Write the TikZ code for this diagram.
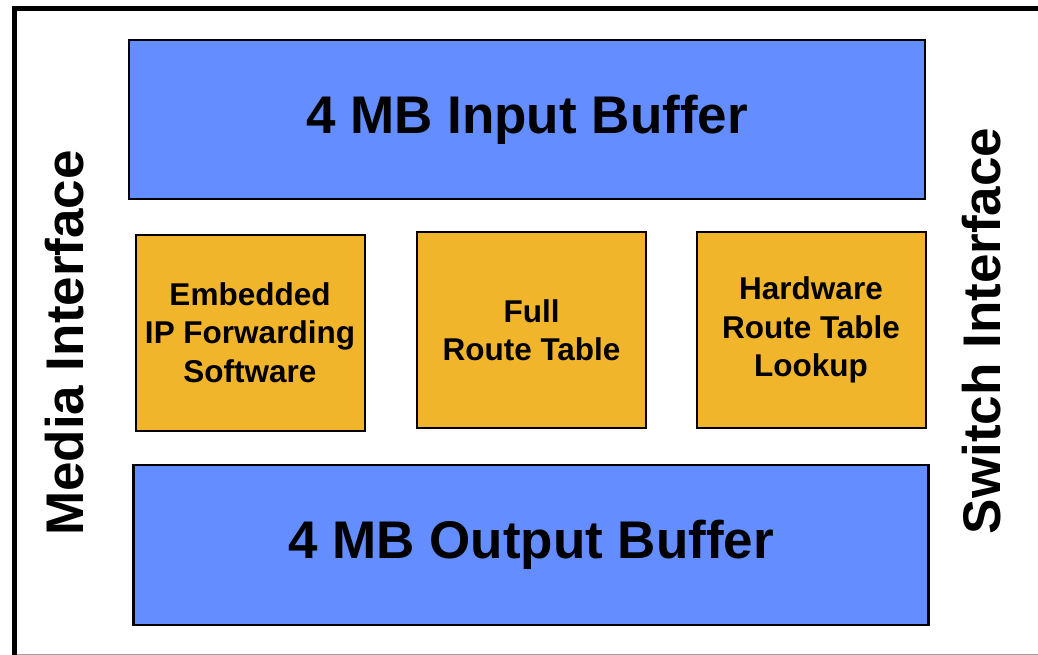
\documentclass[tikz,border=0pt]{standalone}
\usepackage{fontspec}
\setmainfont{Liberation Sans}
\usetikzlibrary{positioning}
\definecolor{bufblue}{HTML}{648EFF}
\definecolor{unitgold}{HTML}{F1B52B}
\definecolor{edge}{HTML}{000000}
\definecolor{rule}{HTML}{A0A0A0}
\tikzset{
  buffer/.style={draw=edge, line width=2.6pt, fill=bufblue, inner sep=0pt,
                 font=\fontsize{53}{60}\selectfont\bfseries},
  unit/.style={draw=edge, line width=2pt, fill=unitgold, inner sep=0pt, align=center,
               minimum width=229pt, minimum height=196pt,
               font=\fontsize{31.5}{38.5}\selectfont\bfseries},
  side/.style={rotate=90, inner sep=0pt, font=\fontsize{53}{60}\selectfont\bfseries},
}
\begin{document}
\begin{tikzpicture}[x=1pt, y=-1pt]
  \useasboundingbox (0,0) rectangle (1038,655);
  % outer card, cut by the page on the right and bottom
  \draw[line width=5pt, edge] (14.5,655) -- (14.5,9) -- (1038,9);
  \draw[line width=1pt, rule] (17,654) -- (1038,654);
  % buffers
  \node[buffer, minimum width=796pt, minimum height=159pt] (inbuf)  at (527,119.5) {4 MB Input Buffer};
  \node[buffer, minimum width=795pt, minimum height=160pt] (outbuf) at (531,545)   {4 MB Output Buffer};
  % processing units
  \node[unit] (ipfw)  at (250,332.5) {Embedded\\IP Forwarding\\Software};
  \node[unit] (route) at (531.5,330) {Full\\Route Table};
  \node[unit] (hwlu)  at (811,330)   {Hardware\\Route Table\\Lookup};
  % interfaces
  \node[side] (media)  at (65,343)  {Media Interface};
  \node[side] (switch) at (982,331) {Switch Interface};
\end{tikzpicture}
\end{document}
